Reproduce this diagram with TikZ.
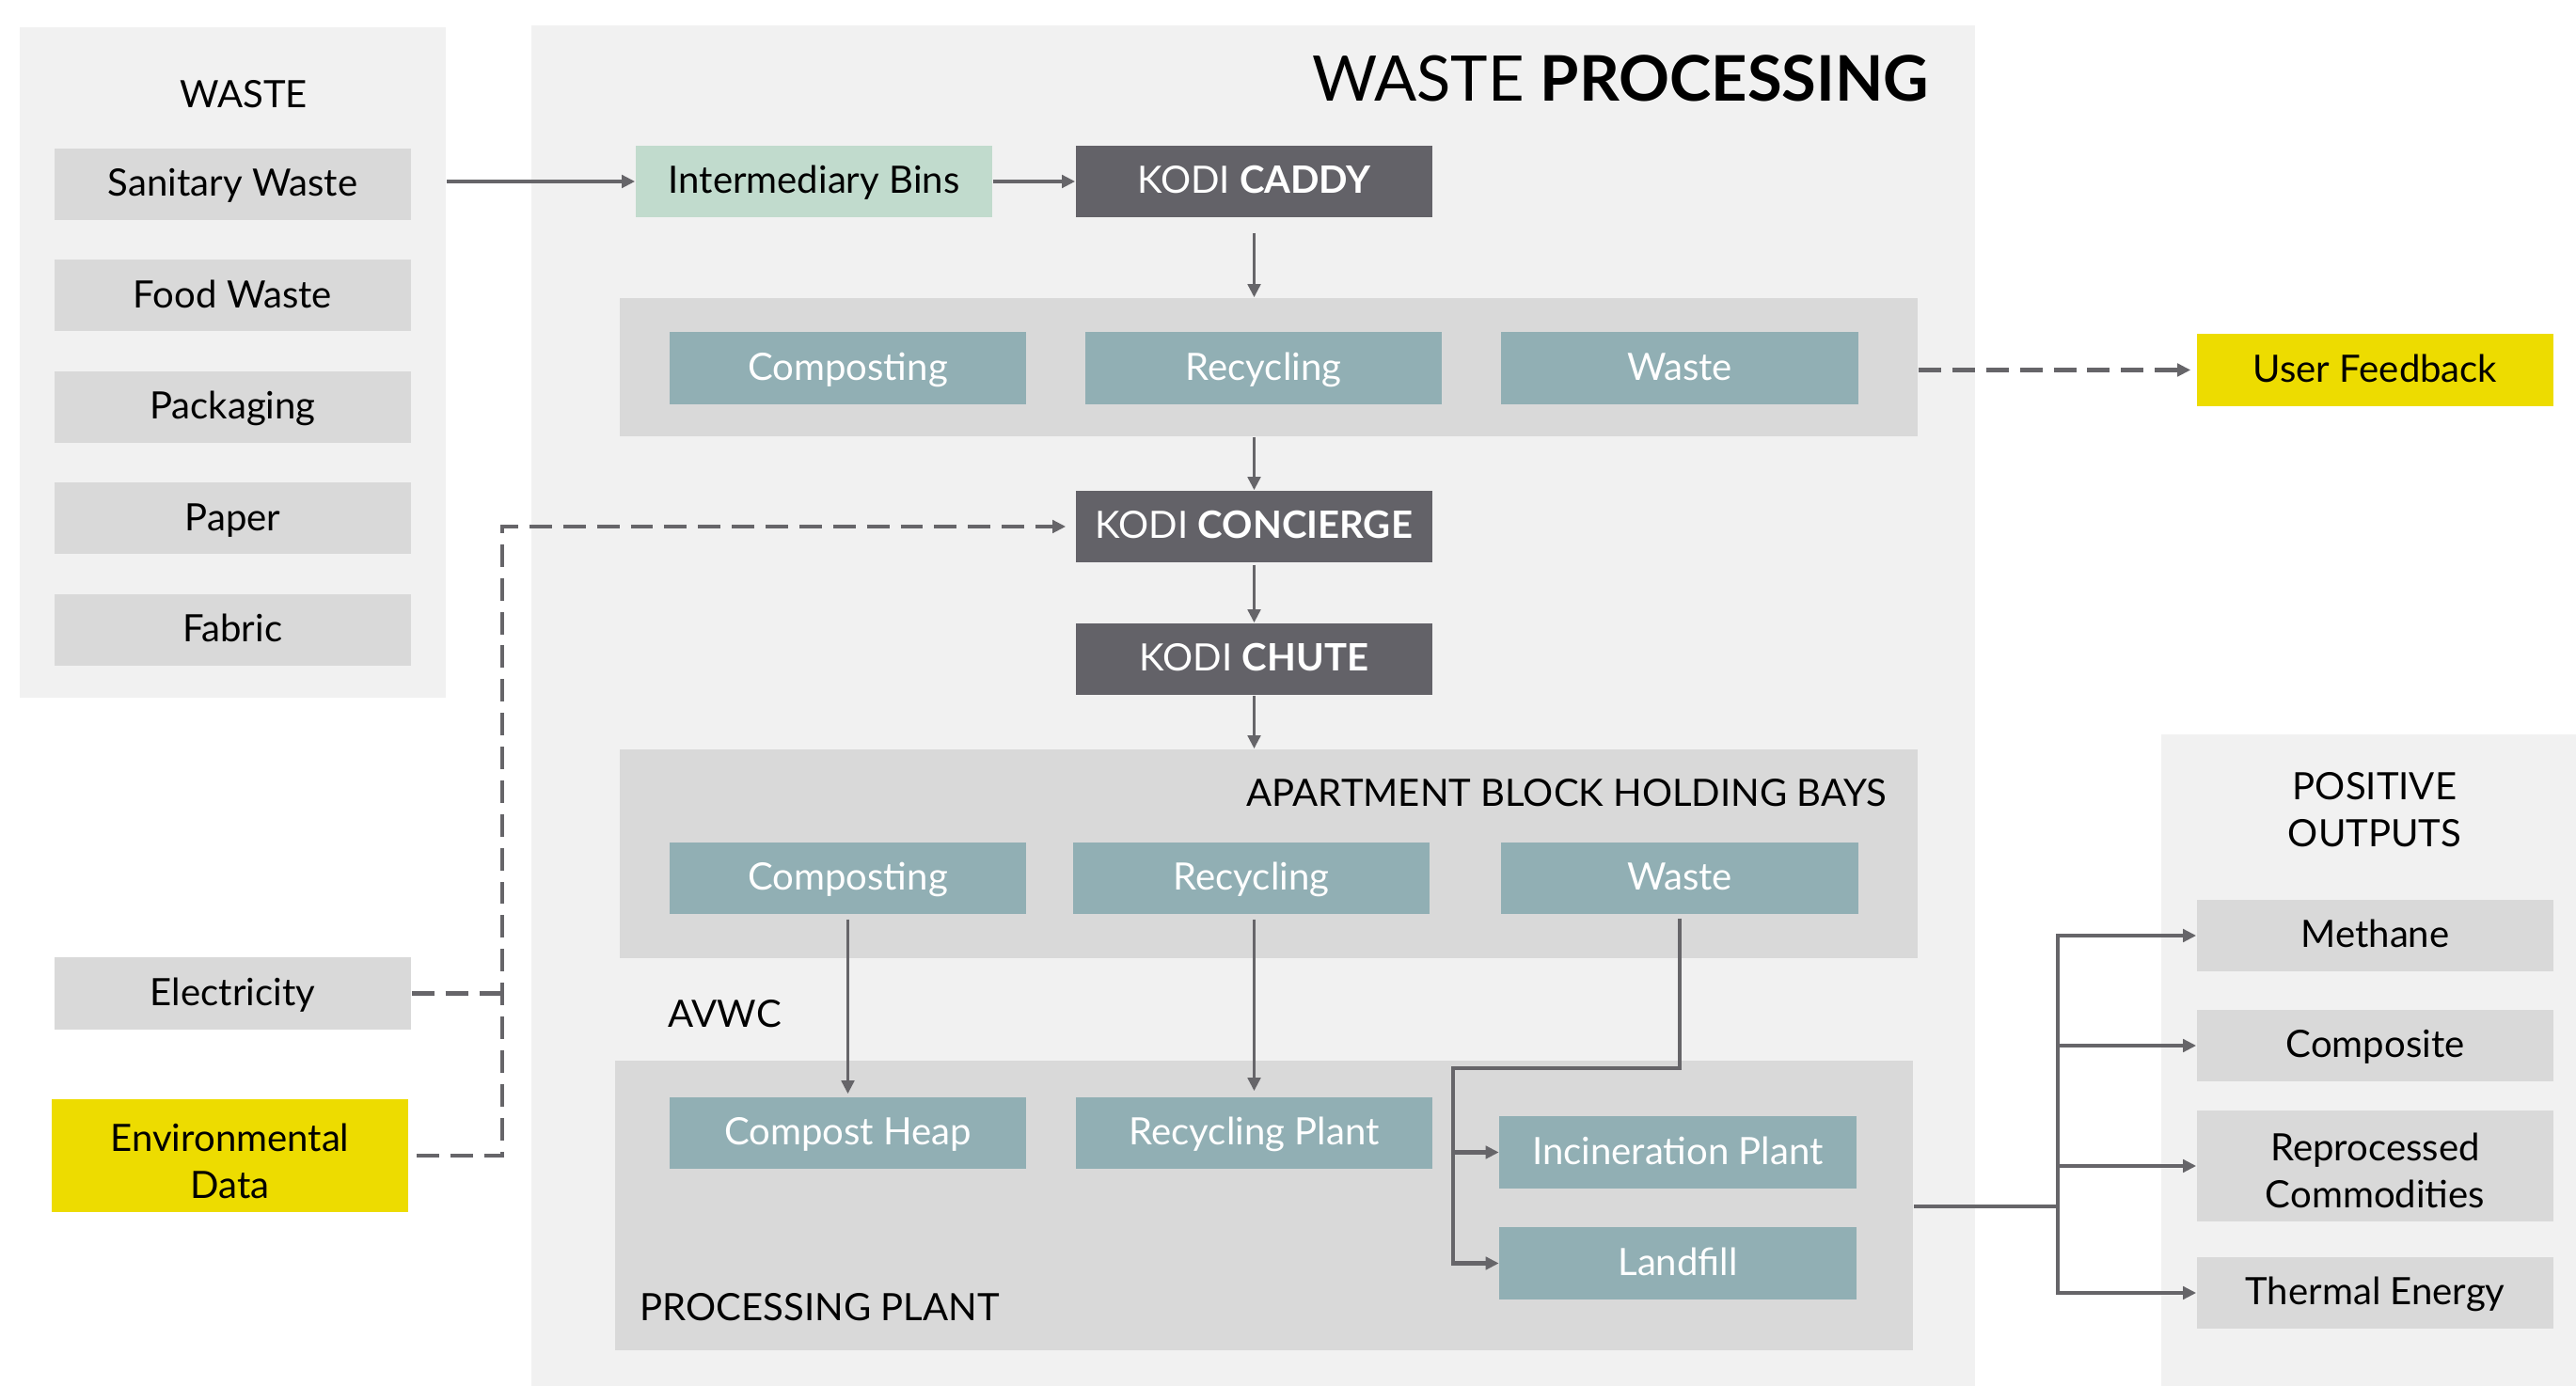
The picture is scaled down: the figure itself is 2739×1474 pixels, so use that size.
\documentclass[tikz,border=0pt]{standalone}
\usepackage{fontspec}
\setmainfont{Lato}
\usetikzlibrary{positioning,arrows.meta}
\definecolor{panelgray}{HTML}{F1F1F1}
\definecolor{boxgray}{HTML}{D9D9D9}
\definecolor{binteal}{HTML}{91AFB4}
\definecolor{kodidark}{HTML}{636268}
\definecolor{binsgreen}{HTML}{C1DBCD}
\definecolor{datayellow}{HTML}{EDDC00}
\definecolor{linegray}{HTML}{666569}

\begin{document}
\begin{tikzpicture}[
		x=0.01cm, y=-0.01cm,
		font=\fontsize{11.4}{14.2}\selectfont,
		panel/.style={fill=panelgray, inner sep=0},
		bay/.style={fill=boxgray, inner sep=0},
		box/.style={fill=boxgray, minimum width=3.79cm, minimum height=0.76cm, inner sep=0, align=center},
		item/.style={box, text height=0.72em, text depth=0pt},
		bin/.style={item, fill=binteal, text=white},
		kodi/.style={item, fill=kodidark, text=white},
		tag/.style={inner sep=0, text height=0.72em, text depth=0pt},
		flow/.style={draw=linegray, line width=1.1pt, -{Triangle[length=4pt,width=3.8pt]}},
		feed/.style={flow, line width=1.4pt, dash pattern=on 6.8pt off 3.4pt},
		yield/.style={flow, line width=1.4pt}
	]
	\useasboundingbox (0,0) rectangle (2739,1474);

	\node[panel, minimum width=4.53cm, minimum height=7.13cm] (wastepanel) at (247.5,385.5) {};
	\node[panel, minimum width=15.35cm, minimum height=14.47cm] (mainpanel) at (1332.5,750.5) {};
	\node[panel, minimum width=4.41cm, minimum height=6.93cm] (outpanel) at (2518.5,1127.5) {};
	\node[bay, minimum width=13.8cm, minimum height=1.47cm] (sortbay) at (1349,390.5) {};
	\node[bay, minimum width=13.8cm, minimum height=2.22cm] (holdbay) at (1349,908) {};
	\node[bay, minimum width=13.8cm, minimum height=3.08cm] (plantbay) at (1344,1282) {};

	\node[tag] (wastetitle) at (259,102) {WASTE};
	\node[inner sep=0, anchor=base east, font=\fontsize{19}{23}\selectfont] (maintitle) at (2052,108) {WASTE \textbf{PROCESSING}};
	\node[tag, anchor=east] (holdtitle) at (2007,845) {APARTMENT BLOCK HOLDING BAYS};
	\node[tag, anchor=west] (avwc) at (710,1080) {AVWC};
	\node[tag, anchor=west] (planttitle) at (680,1392) {PROCESSING PLANT};
	\node[inner sep=0, align=center] (outtitle) at (2525,861) {POSITIVE\\OUTPUTS};

	\node[item] (sanitary) at (247.5,196) {Sanitary Waste};
	\node[item, below=0.41cm of sanitary] (food) {Food Waste};
	\node[item, below=0.41cm of food] (packaging) {Packaging};
	\node[item, below=0.41cm of packaging] (paper) {Paper};
	\node[item, below=0.41cm of paper] (fabric) {Fabric};

	\node[item] (elec) at (247.5,1056.5) {Electricity};
	\node[box, fill=datayellow, minimum height=1.2cm] (envdata) at (244.5,1229) {\rule{0pt}{1.05em}Environmental\\Data};

	\node[item, fill=binsgreen] (bins) at (865.5,193) {Intermediary Bins};
	\node[kodi] (caddy) at (1333.5,193) {KODI \textbf{CADDY}};
	\node[kodi] (concierge) at (1333.5,560) {KODI \textbf{CONCIERGE}};
	\node[kodi] (chute) at (1333.5,701) {KODI \textbf{CHUTE}};

	\node[bin] (sortcompost) at (901.5,391.5) {Composting};
	\node[bin] (sortrecycle) at (1343.5,391.5) {Recycling};
	\node[bin] (sortwaste) at (1786,391.5) {Waste};
	\node[item, fill=datayellow] (feedback) at (2525.5,393.5) {User Feedback};

	\node[bin] (baycompost) at (901.5,934) {Composting};
	\node[bin] (bayrecycle) at (1330.5,934) {Recycling};
	\node[bin] (baywaste) at (1786,934) {Waste};

	\node[bin] (heap) at (901.5,1205) {Compost Heap};
	\node[bin] (recplant) at (1333.5,1205) {Recycling Plant};
	\node[bin] (incin) at (1784,1225.5) {Incineration Plant};
	\node[bin] (landfill) at (1784,1343.5) {Landfill};

	\node[item] (methane) at (2525.5,995) {Methane};
	\node[item] (composite) at (2525.5,1112) {Composite};
	\node[box, minimum height=1.18cm] (reproc) at (2525.5,1240) {\rule{0pt}{1.0em}Reprocessed\\Commodities};
	\node[item] (thermal) at (2525.5,1375) {Thermal Energy};

	\draw[flow] (wastepanel.east |- bins) -- (bins);
	\draw[flow] (bins) -- (caddy);
	\draw[flow, shorten <=0.16cm] (caddy) -- (caddy |- sortbay.north);
	\draw[flow] (sortbay.south -| concierge) -- (concierge);
	\draw[flow, shorten <=0.02cm] (concierge) -- (chute);
	\draw[flow] (chute) -- (chute |- holdbay.north);
	\draw[flow, shorten <=0.05cm, shorten >=0.03cm] (baycompost) -- (heap);
	\draw[flow, shorten <=0.05cm, shorten >=0.06cm] (bayrecycle.south -| recplant) -- (recplant);

	\coordinate (split) at (1545,1136);
	\draw[yield, shorten <=0.04cm] (baywaste.south) |- (split) |- (landfill);
	\draw[yield] (split |- incin) -- (incin);

	\coordinate (trunk) at (2188,1283);
	\draw[yield, -] (plantbay.east |- trunk) -- (trunk);
	\draw[yield] (trunk) |- (methane);
	\draw[yield] (trunk) |- (thermal);
	\draw[yield] (trunk |- composite) -- (composite);
	\draw[yield] (trunk |- reproc) -- (reproc);

	\draw[feed, shorten >=0.06cm] (sortbay.east |- feedback) -- (feedback);
	\coordinate (bus) at (534,560);
	\draw[feed, shorten <=0.08cm, shorten >=0.1cm] (envdata) -| (bus) -- (concierge);
	\draw[feed, -] (elec) -- (elec -| bus);
\end{tikzpicture}
\end{document}
